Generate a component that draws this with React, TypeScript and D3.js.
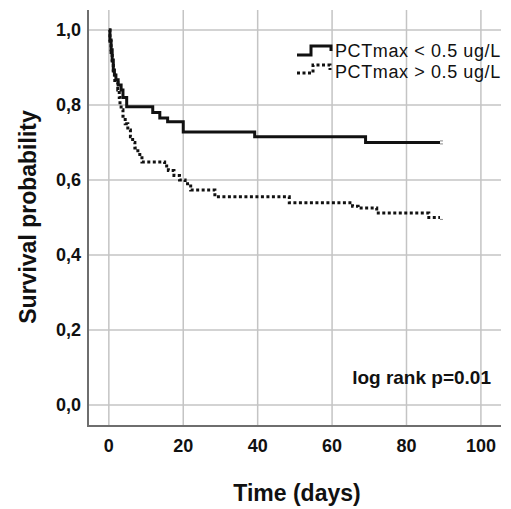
import React from "react";
import * as d3 from "d3";

const lowTimes = [0, 0.3, 0.6, 0.9, 1.2, 1.5, 1.9, 2.5, 3.3, 3.8, 4.8, 11.8, 13.7, 15.8, 20, 39.2, 69, 89];
const lowSurv = [1.0, 0.973, 0.947, 0.92, 0.893, 0.88, 0.867, 0.853, 0.84, 0.82, 0.795, 0.78, 0.765, 0.755, 0.728, 0.715, 0.7, 0.7];

const highTimes = [0, 0.3, 0.6, 0.9, 1.2, 1.6, 2.4, 2.8, 3.0, 3.3, 3.8, 4.4, 5.1, 5.8, 6.4, 7.0, 7.8, 8.9, 15, 16, 17.5, 19, 20.5, 22, 28.5, 48.5, 65.5, 67, 72, 86, 89];
const highSurv = [1.0, 0.97, 0.94, 0.91, 0.88, 0.86, 0.84, 0.82, 0.8, 0.787, 0.77, 0.75, 0.733, 0.715, 0.7, 0.685, 0.668, 0.648, 0.637, 0.625, 0.612, 0.6, 0.59, 0.573, 0.555, 0.539, 0.53, 0.525, 0.512, 0.5, 0.5];

const xTicks = [0, 20, 40, 60, 80, 100];
const yTicks = [0, 0.2, 0.4, 0.6, 0.8, 1.0];
const yTickLabels = ["0,0", "0,2", "0,4", "0,6", "0,8", "1,0"];
const legendLabels = ["PCTmax < 0.5 ug/L", "PCTmax > 0.5 ug/L"];

export default function App() {
  const W = 511, H = 509;
  const x = d3.scaleLinear().domain([-5.6, 105.4]).range([88, 501]);
  const y = d3.scaleLinear().domain([-0.056, 1.053]).range([426, 10]);
  const line = d3
    .line<[number, number]>()
    .x((d) => x(d[0]))
    .y((d) => y(d[1]))
    .curve(d3.curveStepAfter);
  const low: [number, number][] = lowTimes.map((t, i) => [t, lowSurv[i]]);
  const high: [number, number][] = highTimes.map((t, i) => [t, highSurv[i]]);
  const font = "'Liberation Sans', Arial, sans-serif";
  const grid = "#c4c4c4";
  const axis = "#6e6e6e";
  const lastLow = low[low.length - 1];
  const lastHigh = high[high.length - 1];
  return (
    <svg width={W} height={H} style={{ position: "absolute", left: 0, top: 0, background: "#fff" }}>
      <rect x={0} y={0} width={W} height={H} fill="#fff" />
      {yTicks.map((t) => (
        <line key={"gy" + t} x1={88} x2={501} y1={y(t)} y2={y(t)} stroke={grid} strokeWidth={1.5} />
      ))}
      {xTicks.map((t) => (
        <line key={"gx" + t} x1={x(t)} x2={x(t)} y1={10} y2={426} stroke={grid} strokeWidth={1.5} />
      ))}
      <line x1={88} x2={88} y1={10} y2={427} stroke={axis} strokeWidth={2} />
      <line x1={87} x2={501} y1={426} y2={426} stroke={axis} strokeWidth={2} />
      {yTicks.map((t, i) => (
        <text key={"ty" + t} x={81} y={y(t) + 6.5} textAnchor="end" fontFamily={font} fontWeight="bold" fontSize={18} fill="#111">
          {yTickLabels[i]}
        </text>
      ))}
      {xTicks.map((t) => (
        <text key={"tx" + t} x={x(t)} y={452} textAnchor="middle" fontFamily={font} fontWeight="bold" fontSize={18} fill="#111">
          {t}
        </text>
      ))}
      <path d={line(high) || ""} fill="none" stroke="#111" strokeWidth={3} strokeDasharray="3,2.5" />
      <path d={line(low) || ""} fill="none" stroke="#111" strokeWidth={3} />
      <line x1={x(lastLow[0])} x2={x(lastLow[0]) + 3} y1={y(lastLow[1]) - 1.5} y2={y(lastLow[1]) - 1.5} stroke="#888" strokeWidth={1} />
      <line x1={x(lastLow[0])} x2={x(lastLow[0]) + 3} y1={y(lastLow[1]) + 1.5} y2={y(lastLow[1]) + 1.5} stroke="#888" strokeWidth={1} />
      <line x1={x(lastHigh[0])} x2={x(lastHigh[0]) + 3} y1={y(lastHigh[1]) + 2} y2={y(lastHigh[1]) + 2} stroke="#888" strokeWidth={1} />
      {/* legend */}
      <path d="M297,55 H311 V46 H331 V51" fill="none" stroke="#111" strokeWidth={3} />
      <text x={335} y={57} fontFamily={font} fontSize={18} letterSpacing={0.6} fill="#111">{legendLabels[0]}</text>
      <path d="M297,73 H313 V65 H330 V70" fill="none" stroke="#111" strokeWidth={3} strokeDasharray="3,2.5" />
      <text x={335} y={78} fontFamily={font} fontSize={18} letterSpacing={0.6} fill="#111">{legendLabels[1]}</text>
      <text x={491} y={384} textAnchor="end" fontFamily={font} fontWeight="bold" fontSize={19} fill="#111">log rank p=0.01</text>
      <text x={297} y={501} textAnchor="middle" fontFamily={font} fontWeight="bold" fontSize={23} fill="#111">Time (days)</text>
      <text transform="translate(36,217) rotate(-90)" textAnchor="middle" fontFamily={font} fontWeight="bold" fontSize={23} fill="#111">Survival probability</text>
    </svg>
  );
}
